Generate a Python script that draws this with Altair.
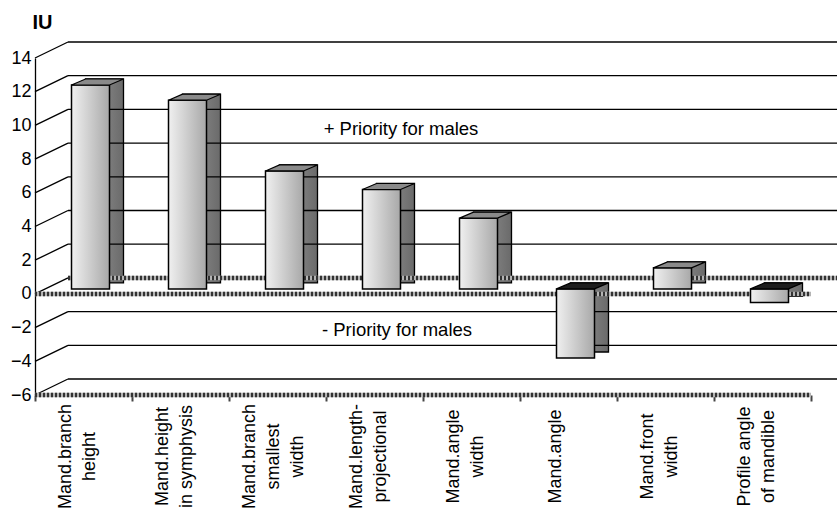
import altair as alt
import pandas as pd

# ---------------- data ----------------
categories = [
    "Mand.branch|height",
    "Mand.height|in symphysis",
    "Mand.branch|smallest|width",
    "Mand.length-|projectional",
    "Mand.angle|width",
    "Mand.angle",
    "Mand.front|width",
    "Profile angle|of mandible",
]
values = [12.1, 11.2, 7.0, 5.9, 4.2, -4.1, 1.25, -0.8]
y_ticks = [-6, -4, -2, 0, 2, 4, 6, 8, 10, 12, 14]
annotations = ["+ Priority for males", "- Priority for males"]
annotation_y = [9.8, -2.15]
annotation_x = [366, 362]

bars = pd.DataFrame({"cat": categories, "v": values})
bars["top"] = bars["v"].clip(lower=0)
grid = pd.DataFrame({"v": y_ticks})
grid_plain = grid[grid["v"] != 0]
zero_line = pd.DataFrame({"v": [0]})
front_lines = pd.DataFrame({"v": [0, -6]})
notes = pd.DataFrame({"t": annotations, "y": annotation_y, "x": annotation_x})

FONT = "Liberation Sans"
W, H = 776, 337
DX, DY = 33, -16  # wall depth
HATCH_BASE = dict(color="#b4b4b4", strokeWidth=4.5)
HATCH = dict(color="#333333", strokeWidth=4.5, strokeDash=[2, 2])

yscale = alt.Scale(domain=[-6, 14], nice=False, zero=False)
xscale = alt.Scale(domain=categories, paddingInner=0, paddingOuter=0)

yaxis = alt.Axis(
    values=y_ticks, labelFontSize=18, labelFont=FONT, labelColor="black",
    labelPadding=4, ticks=False, grid=False,
    domain=True, domainColor="black", domainWidth=1.3,
    title="IU", titleAngle=0, titleX=7, titleY=-30, titleAlign="center",
    titleBaseline="alphabetic", titleFont=FONT, titleFontSize=20,
    titleFontWeight="bold", titleColor="black",
)
xaxis = alt.Axis(
    labelExpr="split(datum.label, '|')",
    labelAngle=270, labelAlign="center", labelBaseline="middle",
    labelPadding=55, labelFontSize=18, labelFont=FONT, labelColor="black",
    labelLineHeight=24, labelOverlap=False, labelBound=False,
    labelOffset={
        "condition": [
            {"test": "indexof(datum.label, '|') < 0", "value": -13},
            {"test": "length(split(datum.label, '|')) > 2", "value": -28},
        ],
        "value": -18,
    },
    domain=False, ticks=True, tickBand="extent", tickSize=6,
    tickColor="#444", tickWidth=2,
)


def Y(field):
    return alt.Y(field, scale=yscale, axis=yaxis, title="IU")


def X():
    return alt.X("cat:N", sort=categories, scale=xscale, axis=xaxis, title=None)


# back wall lines
back = alt.Chart(grid_plain).mark_rule(
    color="black", strokeWidth=1.3, yOffset=DY
).encode(y=Y("v:Q"), x=alt.value(DX), x2=alt.value(W + 26))

back_zero_base = alt.Chart(zero_line).mark_rule(yOffset=DY, **HATCH_BASE).encode(
    y=Y("v:Q"), x=alt.value(DX), x2=alt.value(W + 26)
)
back_zero = alt.Chart(zero_line).mark_rule(yOffset=DY, **HATCH).encode(
    y=Y("v:Q"), x=alt.value(DX), x2=alt.value(W + 26)
)
# left wall diagonals
diag = alt.Chart(grid).mark_rule(
    color="black", strokeWidth=1.3, y2Offset=DY
).encode(y=Y("v:Q"), y2="v:Q", x=alt.value(0), x2=alt.value(DX))

# front hatched lines
front_base = alt.Chart(front_lines).mark_rule(**HATCH_BASE).encode(
    y=Y("v:Q"), x=alt.value(0), x2=alt.value(W)
)
front = alt.Chart(front_lines).mark_rule(**HATCH).encode(
    y=Y("v:Q"), x=alt.value(0), x2=alt.value(W)
)

side_fill = alt.Gradient(
    gradient="linear",
    stops=[alt.GradientStop(color="#9a9a9a", offset=0),
           alt.GradientStop(color="#6a6a6a", offset=1)],
    x1=0, x2=1, y1=0, y2=0,
)
front_fill = alt.Gradient(
    gradient="linear",
    stops=[alt.GradientStop(color="#f0f0f0", offset=0),
           alt.GradientStop(color="#a8a8a8", offset=1)],
    x1=0, x2=1, y1=0, y2=0,
)

side = alt.Chart(bars).mark_bar(
    width=38, xOffset=21, yOffset=-11, y2Offset=-11,
    fill=side_fill, stroke="black", strokeWidth=1.3,
).encode(x=X(), y=Y("v:Q"))

face = alt.Chart(bars).mark_bar(
    width=38, xOffset=7, yOffset=-5, y2Offset=-5,
    fill=front_fill, stroke="black", strokeWidth=1.5,
).encode(x=X(), y=Y("v:Q"))

top_path = "M -1 0 L 0.4615 0 L 1 -0.2308 L -0.4615 -0.2308 Z"
top = alt.Chart(bars).mark_point(
    shape=top_path, size=2704, filled=True, opacity=1,
    stroke="black", strokeWidth=1.2, xOffset=14, yOffset=-5,
).encode(
    x=X(),
    y=Y("top:Q"),
    fill=alt.condition("datum.v < 0", alt.value("#1e1e1e"), alt.value("#8a8a8a")),
)

text = alt.Chart(notes).mark_text(
    font=FONT, fontSize=18.5, color="black", align="center", baseline="middle"
).encode(
    x=alt.X("x:Q", scale=None),
    y=Y("y:Q"),
    text="t:N",
)

chart = alt.layer(
    side, back, back_zero_base, back_zero, diag, front_base, front, face, top, text
).properties(
    width=W, height=H,
    padding={"left": 35, "top": 58, "right": 26, "bottom": 122},
    autosize=alt.AutoSizeParams(type="none"),
    background="white",
).configure_view(stroke=None)

chart.save("out.html", embed_options={"renderer": "svg", "actions": False})
